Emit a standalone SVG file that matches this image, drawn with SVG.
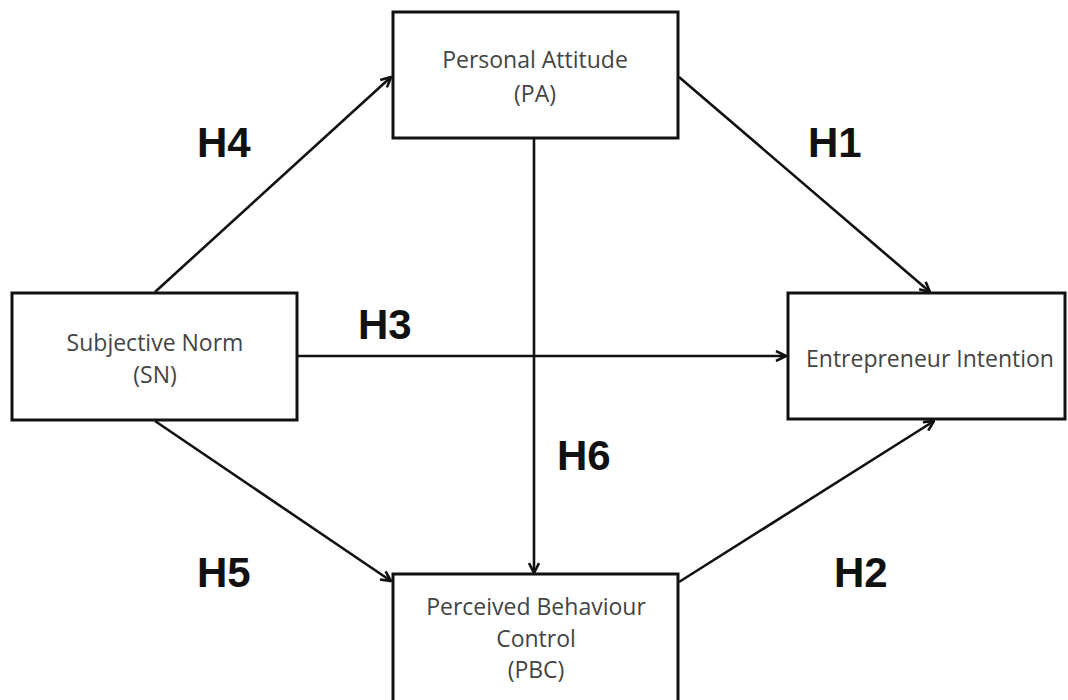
<svg xmlns="http://www.w3.org/2000/svg" width="1068" height="700" viewBox="0 0 1068 700">
<style>
.box{fill:#fff;stroke:#111;stroke-width:3}
.t{font-family:"Open Sans","Noto Sans",sans-serif;font-size:23px;fill:#444;text-anchor:middle}
.h{font-family:"Liberation Sans",Arial,sans-serif;font-size:42px;font-weight:bold;fill:#111}
.c{stroke:#111;stroke-width:2.6;fill:none;marker-end:url(#ah)}
</style>
<defs>
<marker id="ah" viewBox="0 0 12 12" refX="11" refY="6" markerWidth="12" markerHeight="12" markerUnits="userSpaceOnUse" orient="auto">
<path d="M1,1 L11,6 L1,11" fill="none" stroke="#111" stroke-width="2.6"/>
</marker>
</defs>
<rect width="1068" height="700" fill="#fff"/>
<g id="connectors">
<line class="c" x1="155" y1="292" x2="391" y2="77"/>
<line class="c" x1="679" y1="77" x2="930" y2="292"/>
<line class="c" x1="297" y1="356" x2="786" y2="356"/>
<line class="c" x1="534" y1="138" x2="534" y2="573"/>
<line class="c" x1="155" y1="421" x2="391" y2="581"/>
<line class="c" x1="679" y1="582" x2="934" y2="421"/>
</g>
<g id="labels">
<text class="h" x="197" y="157">H4</text>
<text class="h" x="808" y="157">H1</text>
<text class="h" x="358" y="339">H3</text>
<text class="h" x="557" y="470">H6</text>
<text class="h" x="197" y="587">H5</text>
<text class="h" x="834" y="587">H2</text>
</g>
<g id="pa">
<rect class="box" x="393" y="12" width="285" height="126"/>
<text class="t" x="535" y="68">Personal Attitude</text>
<text class="t" x="535" y="102">(PA)</text>
</g>
<g id="sn">
<rect class="box" x="12" y="293" width="285" height="127"/>
<text class="t" x="155" y="351">Subjective Norm</text>
<text class="t" x="155" y="383">(SN)</text>
</g>
<g id="ei">
<rect class="box" x="788" y="293" width="277" height="126"/>
<text class="t" x="930" y="367">Entrepreneur Intention</text>
</g>
<g id="pbc">
<rect class="box" x="393" y="574" width="285" height="140"/>
<text class="t" x="536" y="615">Perceived Behaviour</text>
<text class="t" x="536" y="647">Control</text>
<text class="t" x="536" y="678">(PBC)</text>
</g>
</svg>
